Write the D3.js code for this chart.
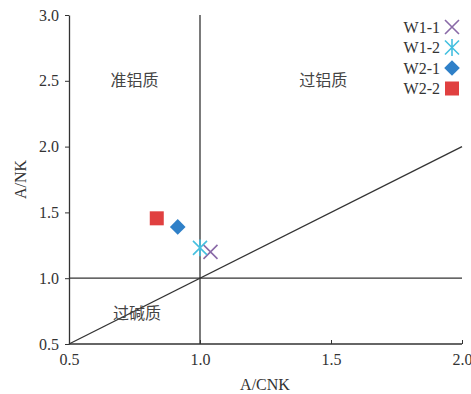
<!DOCTYPE html>
<html><head><meta charset="utf-8">
<script src="https://cdn.jsdelivr.net/npm/d3@7"></script>
<style>body{margin:0;background:#fff}</style>
</head><body>
<svg id="c" width="471" height="394"></svg>
<script>
const samples = ["W1-1","W1-2","W2-1","W2-2"];
const acnk = [1.04, 1.00, 0.915, 0.835];
const ank = [1.20, 1.23, 1.39, 1.455];
const colors = ["#8a6aa8","#45c0e0","#2f80c8","#e04040"];
const shapes = ["x","star","diamond","square"];
const xTicks = [0.5,1.0,1.5,2.0];
const yTicks = [0.5,1.0,1.5,2.0,2.5,3.0];
const regions = [{t:"准铝质",x:0.75,y:2.5},{t:"过铝质",x:1.47,y:2.5},{t:"过碱质",x:0.76,y:0.73}];

const svg = d3.select("#c");
const x = d3.scaleLinear().domain([0.5,2.0]).range([69,462]);
const y = d3.scaleLinear().domain([0.5,3.0]).range([344,15]);
const serif = "'Liberation Serif','Times New Roman',serif";
const cjk = "'Noto Sans CJK SC',sans-serif";
const ink = "#333";

// reference lines
svg.append("line").attr("x1",x(1)).attr("x2",x(1)).attr("y1",y(0.5)).attr("y2",y(3.0)).attr("stroke",ink).attr("stroke-width",1.3);
svg.append("line").attr("x1",x(0.5)).attr("x2",x(2.0)).attr("y1",y(1)).attr("y2",y(1)).attr("stroke",ink).attr("stroke-width",1.3);
svg.append("line").attr("x1",x(0.5)).attr("x2",x(2.0)).attr("y1",y(0.5)).attr("y2",y(2.0)).attr("stroke",ink).attr("stroke-width",1.3);

// axes
const xa = svg.append("g").attr("transform",`translate(0,${y(0.5)})`)
  .call(d3.axisBottom(x).tickValues(xTicks).tickFormat(d3.format(".1f")).tickSizeInner(-4).tickSizeOuter(0).tickPadding(10));
const ya = svg.append("g").attr("transform",`translate(${x(0.5)},0)`)
  .call(d3.axisLeft(y).tickValues(yTicks).tickFormat(d3.format(".1f")).tickSizeInner(4).tickSizeOuter(0).tickPadding(6));
[xa,ya].forEach(g=>{
  g.select(".domain").attr("stroke",ink).attr("stroke-width",1.3);
  g.selectAll(".tick line").attr("stroke",ink);
  g.selectAll("text").attr("font-family",serif).attr("font-size",16).attr("fill",ink);
});
xa.select(".domain").attr("d",`M${x(0.5)},0H${x(2.0)}`);

svg.append("text").attr("x",265).attr("y",390).attr("text-anchor","middle").attr("font-family",serif).attr("font-size",16).attr("fill",ink).text("A/CNK");
svg.append("text").attr("transform",`translate(26,${(y(1.5)+y(2.0))/2}) rotate(-90)`).attr("text-anchor","middle").attr("font-family",serif).attr("font-size",16).attr("fill",ink).text("A/NK");

// region labels
svg.selectAll(".reg").data(regions).enter().append("text")
  .attr("x",d=>x(d.x)).attr("y",d=>y(d.y)).attr("dy","0.35em").attr("text-anchor","middle")
  .attr("font-family",cjk).attr("font-size",16).attr("fill","#444").text(d=>d.t);

function drawMarker(g, shape, color, s){
  if(shape==="x"){
    g.append("path").attr("d",`M${-s},${-s}L${s},${s}M${-s},${s}L${s},${-s}`).attr("stroke",color).attr("stroke-width",1.6).attr("fill","none");
  } else if(shape==="star"){
    g.append("path").attr("d",`M${-s},${-s}L${s},${s}M${-s},${s}L${s},${-s}M0,${-s*1.2}L0,${s*1.2}`).attr("stroke",color).attr("stroke-width",1.6).attr("fill","none");
  } else if(shape==="diamond"){
    g.append("path").attr("d",d3.symbol(d3.symbolDiamond2, s*s*3.2)()).attr("fill",color);
  } else {
    g.append("rect").attr("x",-s).attr("y",-s).attr("width",2*s).attr("height",2*s).attr("fill",color);
  }
}

samples.forEach((n,i)=>{
  const g = svg.append("g").attr("transform",`translate(${x(acnk[i])},${y(ank[i])})`);
  drawMarker(g, shapes[i], colors[i], 7);
});

// legend
samples.forEach((n,i)=>{
  const ly = 27 + i*20.5;
  svg.append("text").attr("x",440).attr("y",ly).attr("dy","0.35em").attr("text-anchor","end")
    .attr("font-family",serif).attr("font-size",16).attr("fill",ink).text(n);
  const g = svg.append("g").attr("transform",`translate(452,${ly})`);
  drawMarker(g, shapes[i], colors[i], 7);
});
</script>
</body></html>
